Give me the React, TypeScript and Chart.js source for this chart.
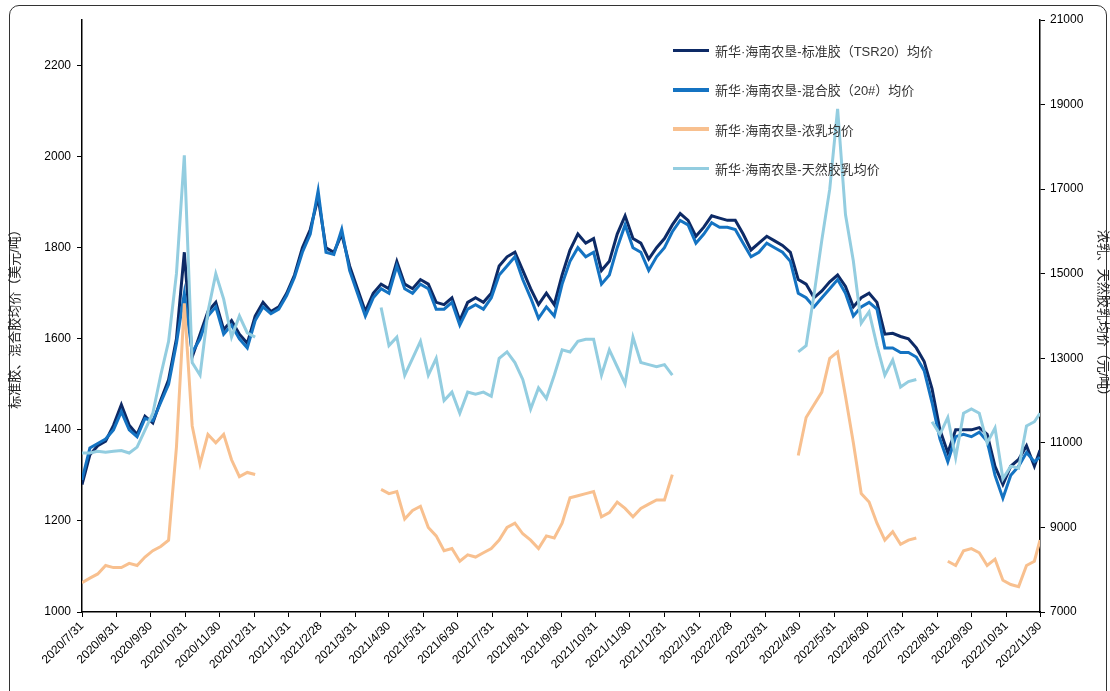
import React, { useEffect, useRef } from "react";
import { Chart, registerables } from "chart.js";
Chart.register(...registerables);

const START = Date.UTC(2020, 6, 31);
const END_DAY = 852; // 2022/11/30
// weekly observation days (offset from 2020/7/31), last point 2022/11/30
const obsDays: number[] = [...Array.from({ length: 122 }, (_, i) => i * 7), END_DAY];

const seriesNames = [
  "新华·海南农垦-标准胶（TSR20）均价",
  "新华·海南农垦-混合胶（20#）均价",
  "新华·海南农垦-浓乳均价",
  "新华·海南农垦-天然胶乳均价",
];

const tsr20: number[] = [
  1280, 1345, 1365, 1375, 1410, 1455, 1410, 1390, 1430, 1415,
  1465, 1510, 1600, 1790, 1560, 1610, 1660, 1680, 1620, 1640,
  1610, 1590, 1650, 1680, 1660, 1670, 1700, 1740, 1800, 1840,
  1910, 1800, 1790, 1830, 1760, 1710, 1660, 1700, 1720, 1710,
  1770, 1720, 1710, 1730, 1720, 1680, 1675, 1690, 1640, 1680,
  1690, 1680, 1700, 1760, 1780, 1790, 1750, 1710, 1675, 1700,
  1675, 1740, 1795, 1830, 1810, 1820, 1750, 1770, 1830, 1870,
  1820, 1810, 1775, 1800, 1820, 1850, 1875, 1860, 1825, 1845,
  1870, 1865, 1860, 1860, 1830, 1795, 1810, 1825, 1815, 1805,
  1790, 1730, 1720, 1690, 1705, 1725, 1740, 1715, 1670, 1690,
  1700, 1680, 1610, 1612, 1605, 1600, 1580, 1550, 1490, 1400,
  1350, 1400, 1400, 1400, 1405, 1390, 1320, 1280, 1320, 1335,
  1365, 1320, 1355,
];

const mixed20: number[] = [
  1290, 1360, 1370, 1380, 1400, 1440, 1400, 1385, 1425, 1420,
  1460, 1500, 1590, 1700, 1570, 1600, 1650, 1670, 1610, 1630,
  1600, 1580, 1640, 1670, 1655, 1665, 1695, 1735, 1790, 1830,
  1925, 1790, 1785, 1840, 1750, 1700, 1650, 1690, 1710, 1700,
  1760, 1710, 1700, 1720, 1710, 1665, 1665, 1680, 1630, 1665,
  1675, 1665, 1690, 1740, 1760, 1780, 1730, 1690, 1645, 1670,
  1650, 1720, 1770, 1800, 1780, 1790, 1720, 1740, 1800, 1850,
  1800, 1790, 1750, 1780, 1800, 1835, 1860, 1850, 1810, 1830,
  1855, 1845, 1845, 1840, 1810, 1780, 1790, 1810, 1800, 1790,
  1770, 1700, 1690, 1670, 1690, 1710, 1730, 1700, 1650, 1670,
  1680, 1665, 1580, 1580, 1570, 1570, 1560, 1530, 1460, 1380,
  1330, 1385, 1390, 1385, 1395, 1375, 1300, 1250, 1300, 1320,
  1350, 1330, 1340,
];

const N = null;
const concLatex: (number | null)[] = [
  7690, 7800, 7900, 8100, 8050, 8050, 8150, 8100, 8300, 8450,
  8550, 8700, 10900, 14300, 11400, 10500, 11200, 11000, 11200, 10600,
  10200, 10300, 10250, N, N, N, N, N, N, N,
  N, N, N, N, N, N, N, N, 9900, 9800,
  9850, 9200, 9400, 9500, 9000, 8800, 8450, 8500, 8200, 8350,
  8300, 8400, 8500, 8700, 9000, 9100, 8850, 8700, 8500, 8800,
  8750, 9100, 9700, 9750, 9800, 9850, 9250, 9350, 9600, 9450,
  9250, 9450, 9550, 9650, 9650, 10250, N, N, N, N,
  N, N, N, N, N, N, N, N, N, N,
  N, 10700, 11600, 11900, 12200, 13000, 13150, 12100, 11000, 9800,
  9600, 9100, 8700, 8900, 8600, 8700, 8750, N, N, N,
  8200, 8100, 8450, 8500, 8400, 8100, 8250, 7750, 7650, 7600,
  8100, 8200, 8700,
];

const naturalLatex: (number | null)[] = [
  10760, 10760, 10800, 10780, 10800, 10820, 10760, 10900, 11300, 11700,
  12600, 13400, 15000, 17800, 12900, 12600, 14100, 15000, 14400, 13500,
  14000, 13600, 13500, N, N, N, N, N, N, N,
  N, N, N, N, N, N, N, N, 14200, 13300,
  13500, 12600, 13000, 13400, 12600, 13000, 12000, 12200, 11700, 12200,
  12150, 12200, 12100, 13000, 13150, 12900, 12500, 11800, 12300, 12050,
  12600, 13200, 13150, 13400, 13450, 13450, 12600, 13200, 12800, 12400,
  13500, 12900, 12850, 12800, 12850, 12600, N, N, N, N,
  N, N, N, N, N, N, N, N, N, N,
  N, 13150, 13300, 14500, 15800, 17000, 18900, 16400, 15300, 13830,
  14100, 13300, 12600, 12960, 12320, 12450, 12500, N, 11500, 11200,
  11600, 10650, 11700, 11800, 11700, 11000, 11350, 10150, 10450, 10400,
  11400, 11500, 11700,
];

const leftTicks = [1000, 1200, 1400, 1600, 1800, 2000, 2200];
const rightTicks = [7000, 9000, 11000, 13000, 15000, 17000, 19000, 21000];

const colors = ["#0d2a66", "#1473c2", "#f8c08f", "#93cde0"];
const CJK = "'Liberation Sans', 'Noto Sans CJK SC', sans-serif";

function monthEndDays(): number[] {
  const out: number[] = [];
  for (let m = 0; m < 29; m++) {
    const d = Date.UTC(2020, 7 + m, 0);
    out.push(Math.round((d - START) / 86400000));
  }
  return out;
}
function dayLabel(day: number): string {
  const d = new Date(START + day * 86400000);
  return `${d.getUTCFullYear()}/${d.getUTCMonth() + 1}/${d.getUTCDate()}`;
}

export default function App() {
  const ref = useRef<HTMLCanvasElement>(null);
  useEffect(() => {
    if (!ref.current) return;
    const mk = (vals: (number | null)[]) => obsDays.map((x, i) => ({ x, y: vals[i] }));
    const font = { family: "'Liberation Sans', Arial, sans-serif", size: 12 };
    const chart = new Chart(ref.current, {
      type: "line",
      data: {
        datasets: [
          { label: seriesNames[0], data: mk(tsr20) as any, borderColor: colors[0], yAxisID: "y", borderWidth: 3 },
          { label: seriesNames[1], data: mk(mixed20) as any, borderColor: colors[1], yAxisID: "y", borderWidth: 3 },
          { label: seriesNames[2], data: mk(concLatex) as any, borderColor: colors[2], yAxisID: "y1", borderWidth: 3 },
          { label: seriesNames[3], data: mk(naturalLatex) as any, borderColor: colors[3], yAxisID: "y1", borderWidth: 3 },
        ].reverse(),
      },
      options: {
        animation: false,
        responsive: false,
        spanGaps: false,
        elements: { point: { radius: 0 }, line: { tension: 0 } },
        layout: { padding: { top: 20, left: 0, right: 0, bottom: 0 } },
        plugins: { legend: { display: false }, tooltip: { enabled: false } },
        scales: {
          x: {
            type: "linear",
            min: 0,
            max: END_DAY,
            afterBuildTicks: (s: any) => { s.ticks = monthEndDays().map((v) => ({ value: v })); },
            afterFit: (s: any) => { s.height = 79; },
            ticks: { font, color: "#000", maxRotation: 45, minRotation: 45, autoSkip: false, callback: (v: any) => dayLabel(Number(v)), padding: 2 },
            grid: { drawOnChartArea: false, drawTicks: true, tickLength: 5, color: "#000" },
            border: { color: "#000", width: 1.5 },
          },
          y: {
            position: "left",
            min: 1000,
            max: 2300,
            afterBuildTicks: (s: any) => { s.ticks = leftTicks.map((v) => ({ value: v })); },
            afterFit: (s: any) => { s.width = 82; },
            ticks: { font, color: "#000", padding: 6, callback: (v: any) => String(v) },
            grid: { drawOnChartArea: false, tickLength: 5, color: "#000" },
            border: { color: "#000", width: 1.5 },
            title: { display: true, text: "标准胶、混合胶均价（美元/吨）", font: { family: CJK, size: 13 }, color: "#222", padding: { top: 8, bottom: 0 } },
          },
          y1: {
            position: "right",
            min: 7000,
            max: 21000,
            afterBuildTicks: (s: any) => { s.ticks = rightTicks.map((v) => ({ value: v })); },
            afterFit: (s: any) => { s.width = 70; },
            ticks: { font, color: "#000", padding: 5, callback: (v: any) => String(v) },
            grid: { drawOnChartArea: false, tickLength: 5, color: "#000" },
            border: { color: "#000", width: 1.5 },
            title: { display: true, text: "浓乳、天然胶乳均价（元/吨）", font: { family: CJK, size: 13 }, color: "#222", padding: { top: 0, bottom: 2 } },
          },
        },
      },
    });
    return () => chart.destroy();
  }, []);

  return (
    <div style={{ position: "absolute", left: 0, top: 0, width: 1110, height: 691, background: "#fff", overflow: "hidden" }}>
      <div style={{ position: "absolute", left: 9, top: 5, width: 1096, height: 700, border: "1.5px solid #333", borderRadius: 10 }} />
      <canvas ref={ref} width={1110} height={691} style={{ position: "absolute", left: 0, top: 0 }} />
      <div style={{ position: "absolute", left: 673, top: 31, fontFamily: CJK, fontSize: 13, color: "#333" }}>
        {seriesNames.map((n, i) => (
          <div key={n} style={{ display: "flex", alignItems: "center", height: 39.3 }}>
            <div style={{ width: 36, height: 3.5, background: colors[i], marginRight: 6 }} />
            <span>{n}</span>
          </div>
        ))}
      </div>
    </div>
  );
}
